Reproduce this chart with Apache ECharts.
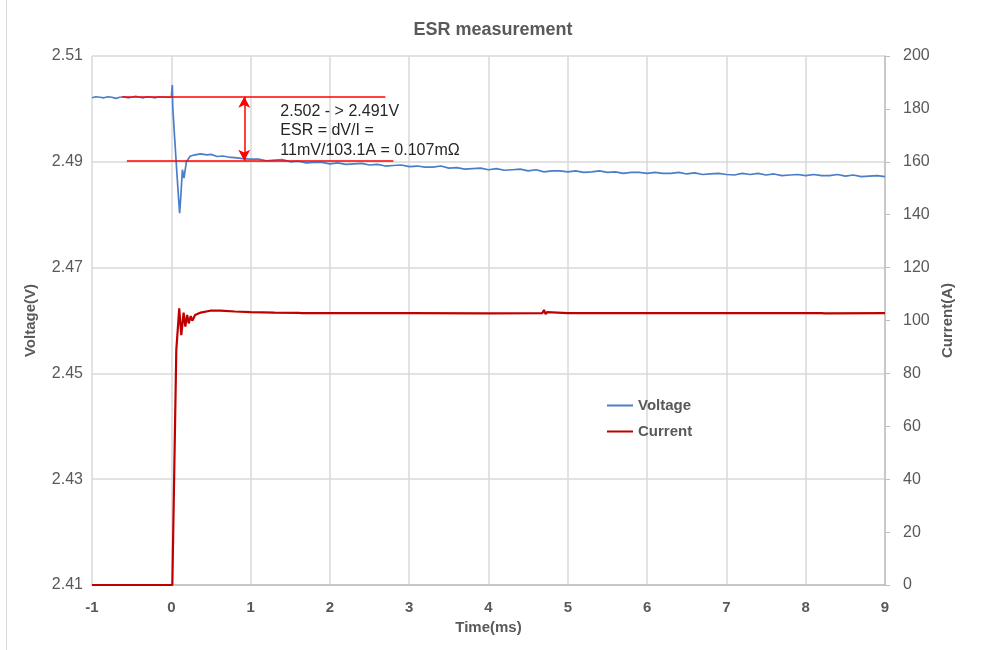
<!DOCTYPE html>
<html>
<head>
<meta charset="utf-8">
<title>ESR measurement</title>
<script src="https://cdn.jsdelivr.net/npm/echarts@6/dist/echarts.min.js"></script>
<style>
  html, body { margin: 0; padding: 0; background: #fff; }
  #chart { width: 986px; height: 650px; }
</style>
</head>
<body>
<div id="chart"></div>
<script>
// voltage trace (ms, V)
var voltTime = [
  -1.00, -0.95, -0.90, -0.85, -0.80, -0.75, -0.70, -0.65, -0.60, -0.55,
  -0.50, -0.45, -0.40, -0.35, -0.30, -0.25, -0.20, -0.15, -0.10, -0.05,
  0.000, 0.008, 0.013, 0.018, 0.040, 0.070, 0.090, 0.105, 0.120, 0.140,
  0.160, 0.190, 0.240, 0.300, 0.370, 0.450, 0.500, 0.580, 0.650, 0.720,
  0.800, 0.900, 1.0,
  1.1, 1.2, 1.3, 1.4, 1.5, 1.6, 1.7, 1.8, 1.9, 2.0,
  2.1, 2.2, 2.3, 2.4, 2.5, 2.6, 2.7, 2.8, 2.9, 3.0,
  3.1, 3.2, 3.3, 3.4, 3.5, 3.6, 3.7, 3.8, 3.9, 4.0,
  4.1, 4.2, 4.3, 4.4, 4.5, 4.6, 4.7, 4.8, 4.9, 5.0,
  5.1, 5.2, 5.3, 5.4, 5.5, 5.6, 5.7, 5.8, 5.9, 6.0,
  6.1, 6.2, 6.3, 6.4, 6.5, 6.6, 6.7, 6.8, 6.9, 7.0,
  7.1, 7.2, 7.3, 7.4, 7.5, 7.6, 7.7, 7.8, 7.9, 8.0,
  8.1, 8.2, 8.3, 8.4, 8.5, 8.6, 8.7, 8.8, 8.9, 9.0
];
var voltValue = [
  2.5021, 2.5023, 2.5022, 2.5021, 2.5023, 2.5022, 2.5020, 2.5022, 2.5023, 2.5021,
  2.5022, 2.5024, 2.5022, 2.5021, 2.5023, 2.5022, 2.5021, 2.5023, 2.5022, 2.5022,
  2.5022, 2.5023, 2.5045, 2.5005, 2.4950, 2.4880, 2.4835, 2.4803, 2.4835, 2.4885,
  2.4869, 2.4900, 2.4911, 2.4913, 2.4915, 2.4913, 2.4914, 2.4910, 2.4911, 2.4909,
  2.4908, 2.4906, 2.4905,
  2.4905, 2.4902, 2.4903, 2.4904, 2.4900, 2.4901, 2.4898, 2.4899, 2.4899, 2.4896,
  2.4898, 2.4895, 2.4896, 2.4897, 2.4894, 2.4895, 2.4892, 2.4893, 2.4894, 2.4891,
  2.4892, 2.4890, 2.4890, 2.4892, 2.4888, 2.4889, 2.4886, 2.4887, 2.4888, 2.4885,
  2.4887, 2.4884, 2.4885, 2.4886, 2.4883, 2.4885, 2.4881, 2.4883, 2.4883, 2.4881,
  2.4883, 2.4880, 2.4881, 2.4883, 2.4880, 2.4881, 2.4878, 2.4880, 2.4880, 2.4878,
  2.4880, 2.4878, 2.4878, 2.4880, 2.4877, 2.4879, 2.4876, 2.4877, 2.4878, 2.4876,
  2.4875, 2.4878, 2.4876, 2.4878, 2.4875, 2.4877, 2.4874, 2.4875, 2.4876, 2.4874,
  2.4876, 2.4874, 2.4874, 2.4876, 2.4873, 2.4875, 2.4872, 2.4873, 2.4874, 2.4872
];

// current trace (ms, A)
var currTime = [
  -1.0, 0.013, 0.063, 0.100, 0.126, 0.155, 0.177, 0.200, 0.220, 0.245,
  0.265, 0.300, 0.370, 0.490, 0.620, 0.800, 1.0, 1.3, 1.60, 1.62,
  1.64, 2.0, 3.0, 4.0, 4.68, 4.70, 4.72, 4.74, 4.76, 5.0,
  6.0, 7.0, 8.20, 8.22, 8.24, 9.0
];
var currValue = [
  0, 0, 88.8, 104.6, 94.5, 103.0, 97.7, 102.1, 98.9, 101.7,
  99.9, 102.1, 103.0, 103.7, 103.7, 103.4, 103.2, 103.0, 102.9, 103.4,
  102.8, 102.8, 102.8, 102.7, 102.8, 104.0, 102.4, 103.2, 102.8, 102.8,
  102.8, 102.8, 102.8, 103.3, 102.7, 102.8
];

// annotation: levels before/after the step and where the arrow sits
var levelHigh = 2.5023;
var levelLow = 2.4902;
var highSpan = [-0.62, 2.70];
var lowSpan = [-0.56, 2.80];
var arrowTime = 0.92;
var noteText = ['2.502 - > 2.491V', 'ESR = dV/I =', '11mV/103.1A = 0.107mΩ'];
var noteAt = [1.375, 2.49588];

var xTicks = { min: -1, max: 9, step: 1 };
var voltAxis = { base: 2.41, top: 2.51, step: 0.02 };
var currAxis = { min: 0, max: 200, step: 20 };

// left axis is drawn in mV above 2.41 V so ticks start at a round zero
function toMv(v) { return +((v - voltAxis.base) * 1000).toFixed(3); }

var voltData = voltTime.map(function (t, i) { return [t, toMv(voltValue[i])]; });
var currData = currTime.map(function (t, i) { return [t, currValue[i]]; });

var font = 'Liberation Sans, Arial, sans-serif';
var grey = '#595959';
var gridColor = '#d9d9d9';
var voltColor = '#4a7ec8';
var currColor = '#c00000';

var chart = echarts.init(document.getElementById('chart'));
var option = {
  animation: false,
  backgroundColor: '#fff',
  textStyle: { fontFamily: font },
  title: {
    text: 'ESR measurement',
    left: 'center',
    top: 16,
    textStyle: { fontSize: 18, fontWeight: 'bold', color: grey, fontFamily: font }
  },
  graphic: [{
    type: 'line',
    shape: { x1: 6.5, y1: 0, x2: 6.5, y2: 650 },
    style: { stroke: gridColor, lineWidth: 1 }
  }],
  legend: {
    data: [
      { name: 'Voltage', icon: 'rect', itemStyle: { color: voltColor } },
      { name: 'Current', icon: 'rect', itemStyle: { color: currColor } }
    ],
    orient: 'vertical',
    left: 602,
    top: 393,
    itemWidth: 26,
    itemHeight: 2,
    itemGap: 11,
    textStyle: { fontSize: 15, fontWeight: 'bold', color: grey, fontFamily: font }
  },
  grid: { left: 92, right: 101, top: 56, bottom: 65 },
  xAxis: {
    type: 'value',
    min: xTicks.min,
    max: xTicks.max,
    interval: xTicks.step,
    name: 'Time(ms)',
    nameLocation: 'middle',
    nameGap: 35,
    nameTextStyle: { fontSize: 15, fontWeight: 'bold', color: grey, fontFamily: font },
    axisLine: { show: true, lineStyle: { color: '#bfbfbf', width: 1.5 } },
    axisTick: { show: false },
    axisLabel: { fontSize: 15, fontWeight: 'bold', color: grey, margin: 15, fontFamily: font },
    splitLine: { show: true, lineStyle: { color: gridColor, width: 1.5 } }
  },
  yAxis: [{
    type: 'value',
    position: 'left',
    min: 0,
    max: toMv(voltAxis.top),
    interval: voltAxis.step * 1000,
    name: 'Voltage(V)',
    nameLocation: 'middle',
    nameGap: 54,
    nameTextStyle: { fontSize: 15, fontWeight: 'bold', color: grey, fontFamily: font },
    axisLine: { show: false },
    axisTick: { show: false },
    axisLabel: {
      fontSize: 16,
      color: grey,
      margin: 9,
      fontFamily: font,
      formatter: function (v) { return (voltAxis.base + v / 1000).toFixed(2); }
    },
    splitLine: { show: true, lineStyle: { color: gridColor, width: 1.5 } }
  }, {
    type: 'value',
    position: 'right',
    min: currAxis.min,
    max: currAxis.max,
    interval: currAxis.step,
    name: 'Current(A)',
    nameLocation: 'middle',
    nameGap: 52,
    nameRotate: 90,
    nameTextStyle: { fontSize: 15, fontWeight: 'bold', color: grey, fontFamily: font },
    axisLine: { show: true, lineStyle: { color: '#bfbfbf', width: 1.5 } },
    axisTick: { show: true, length: 5, lineStyle: { color: '#bfbfbf' } },
    axisLabel: { fontSize: 16, color: grey, margin: 18, fontFamily: font },
    splitLine: { show: false }
  }],
  series: [{
    name: 'Voltage',
    type: 'line',
    yAxisIndex: 0,
    data: voltData,
    symbol: 'none',
    color: voltColor,
    lineStyle: { width: 1.7, color: voltColor },
    z: 2
  }, {
    name: 'Current',
    type: 'line',
    yAxisIndex: 1,
    data: currData,
    symbol: 'none',
    color: currColor,
    lineStyle: { width: 2.2, color: currColor },
    z: 2
  }, {
    name: 'levels',
    type: 'line',
    yAxisIndex: 0,
    data: [],
    markLine: {
      silent: true,
      symbol: 'none',
      label: { show: false },
      lineStyle: { color: '#ff0000', width: 1.5, type: 'solid' },
      data: [
        [{ coord: [highSpan[0], toMv(levelHigh)] }, { coord: [highSpan[1], toMv(levelHigh)] }],
        [{ coord: [lowSpan[0], toMv(levelLow)] }, { coord: [lowSpan[1], toMv(levelLow)] }]
      ]
    },
    z: 3
  }, {
    name: 'arrow',
    type: 'line',
    yAxisIndex: 0,
    data: [],
    markLine: {
      silent: true,
      symbol: ['arrow', 'arrow'],
      symbolSize: [9, 11],
      label: { show: false },
      lineStyle: { color: '#ff0000', width: 1.5, type: 'solid' },
      data: [
        [{ coord: [arrowTime, toMv(levelHigh)] }, { coord: [arrowTime, toMv(levelLow)] }]
      ]
    },
    markPoint: {
      silent: true,
      symbol: 'circle',
      symbolSize: 0,
      label: {
        show: true,
        position: 'right',
        distance: 0,
        color: '#262626',
        fontSize: 16,
        lineHeight: 19.5,
        fontFamily: font,
        formatter: function () { return noteText.join('\n'); }
      },
      data: [{ coord: [noteAt[0], toMv(noteAt[1])] }]
    },
    z: 3
  }]
};
chart.setOption(option);
</script>
</body>
</html>
